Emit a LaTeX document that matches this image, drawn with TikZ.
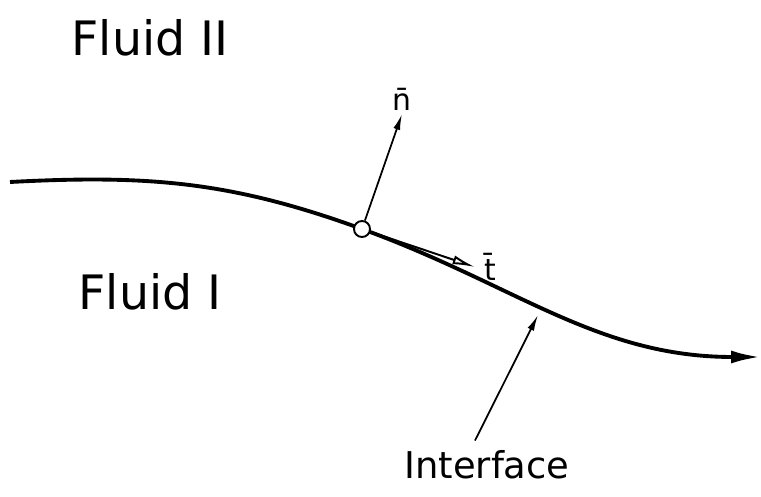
\documentclass[tikz,border=0pt]{standalone}
\usepackage{fontspec}
\setmainfont{DejaVu Sans}
\usetikzlibrary{positioning,arrows.meta}

\begin{document}
\begin{tikzpicture}[
x=0.02cm,y=0.02cm,
curve/.style={line width=2.2pt,-{Latex[length=6mm,width=2.6mm]}},
arrow/.style={-{Latex[length=3.2mm,width=1.4mm]},line width=1pt},
tarrow/.style={-{Latex[open,length=4.5mm,width=1.8mm]},line width=1.1pt},
dot/.style={circle,draw,fill=white,line width=1.1pt,inner sep=0pt,minimum size=0.32cm},
fluid/.style={font=\fontsize{27}{30}\selectfont},
lbl/.style={font=\fontsize{21}{25}\selectfont},
vec/.style={font=\fontsize{17}{20}\selectfont,inner sep=1pt}
]
\useasboundingbox (0,0) rectangle (761,497);
% interface curve
\coordinate (left) at (10,315);
\coordinate (c) at (362,268);
\coordinate (right) at (761,140);
\draw[curve] (left) to[out=3,in=160] (c) to[out=-20,in=180] (right);
\node[dot] (p) at (c) {};
% unit vectors
\coordinate (ntip) at (402,383);
\coordinate (ttip) at (475,230);
\draw[arrow] (p) -- (ntip);
\draw[tarrow] (p) -- (ttip);
\node[vec,above=1pt of ntip] (n) {\=n};
\node[vec,right=4pt of ttip] (t) {\=t};
% labels
\node[fluid] (f2) at (150,459) {Fluid II};
\node[fluid] (f1) at (150,205) {Fluid I};
\node[lbl] (ilbl) at (487,32) {Interface};
\coordinate (itip) at (538,182);
\draw[arrow] (ilbl.north) ++(-12,4) coordinate (ifoot) -- (itip);
\end{tikzpicture}
\end{document}
